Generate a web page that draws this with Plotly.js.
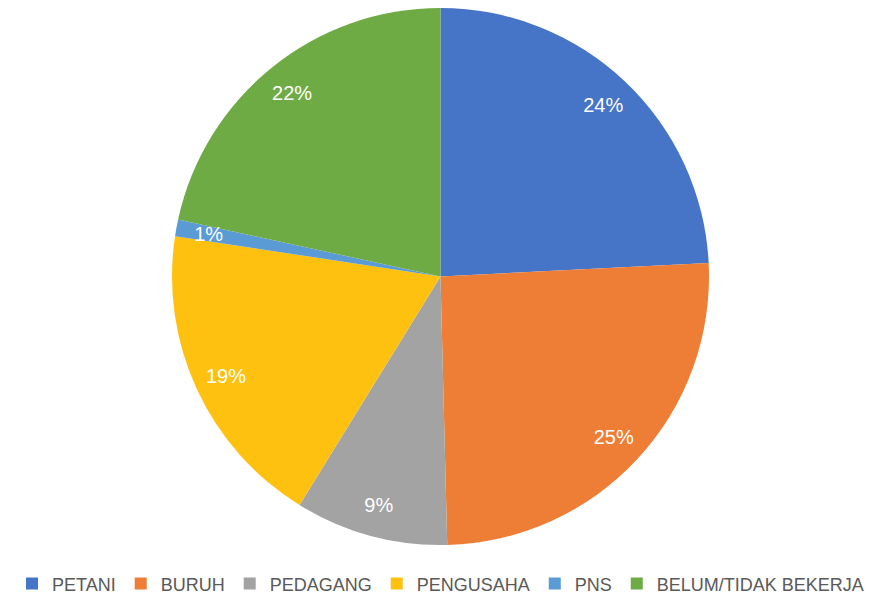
<!DOCTYPE html>
<html>
<head>
<meta charset="utf-8">
<script src="https://cdn.plot.ly/plotly-3.0.1.min.js"></script>
<style>html,body{margin:0;padding:0;background:#fff;}#chart{width:881px;height:604px;}</style>
</head>
<body>
<div id="chart"></div>
<script>
const categories = ["PETANI", "BURUH", "PEDAGANG", "PENGUSAHA", "PNS", "BELUM/TIDAK BEKERJA"];
const values = [24.2, 25.4, 9.2, 18.6, 1.0, 21.6];
const colors = ["#4674C6", "#EE7E36", "#A3A3A3", "#FFC10F", "#5B9BD5", "#6EAB45"];
const smallSlices = ["PNS"];

const fontFam = "Liberation Sans, Arial, sans-serif";
const pctTpl = "%{percent:.0%}";

// Coloured slices
const slices = {
  type: "pie",
  labels: categories,
  values: values,
  sort: false,
  direction: "clockwise",
  rotation: 0,
  marker: {colors: colors, line: {width: 0}},
  textinfo: "none",
  hoverinfo: "label+percent",
  domain: {x: [0, 1], y: [0, 1]}
};

const common = {
  type: "pie",
  labels: categories,
  values: values,
  sort: false,
  direction: "clockwise",
  rotation: 0,
  showlegend: false,
  marker: {colors: categories.map(() => "rgba(0,0,0,0)"), line: {width: 0}},
  textposition: "inside",
  insidetextorientation: "horizontal",
  textfont: {family: fontFam, size: 20, color: "#ffffff"},
  hoverinfo: "skip"
};

// Transparent ring carrying the percentage labels near the outer edge
const labelsRing = Object.assign({}, common, {
  hole: 0.76,
  texttemplate: categories.map(c => smallSlices.includes(c) ? "" : pctTpl),
  domain: {x: [0, 1], y: [0, 1]}
});

// Slightly smaller transparent pie for the label of the very thin slice
const labelsSmall = Object.assign({}, common, {
  texttemplate: categories.map(c => smallSlices.includes(c) ? pctTpl : ""),
  domain: {x: [0, 1], y: [0.0475, 0.9525]}
});

const layout = {
  width: 881,
  height: 604,
  margin: {l: 0, r: 0, t: 8, b: 59},
  paper_bgcolor: "#ffffff",
  showlegend: true,
  uniformtext: {mode: "show", minsize: 20},
  legend: {
    orientation: "h",
    x: 0.5, xanchor: "center",
    y: -0.038, yanchor: "top",
    font: {family: fontFam, size: 18, color: "#595959"},
    itemwidth: 30,
    traceorder: "normal"
  }
};

Plotly.newPlot("chart", [slices, labelsRing, labelsSmall], layout, {displayModeBar: false, staticPlot: true});
</script>
</body>
</html>
